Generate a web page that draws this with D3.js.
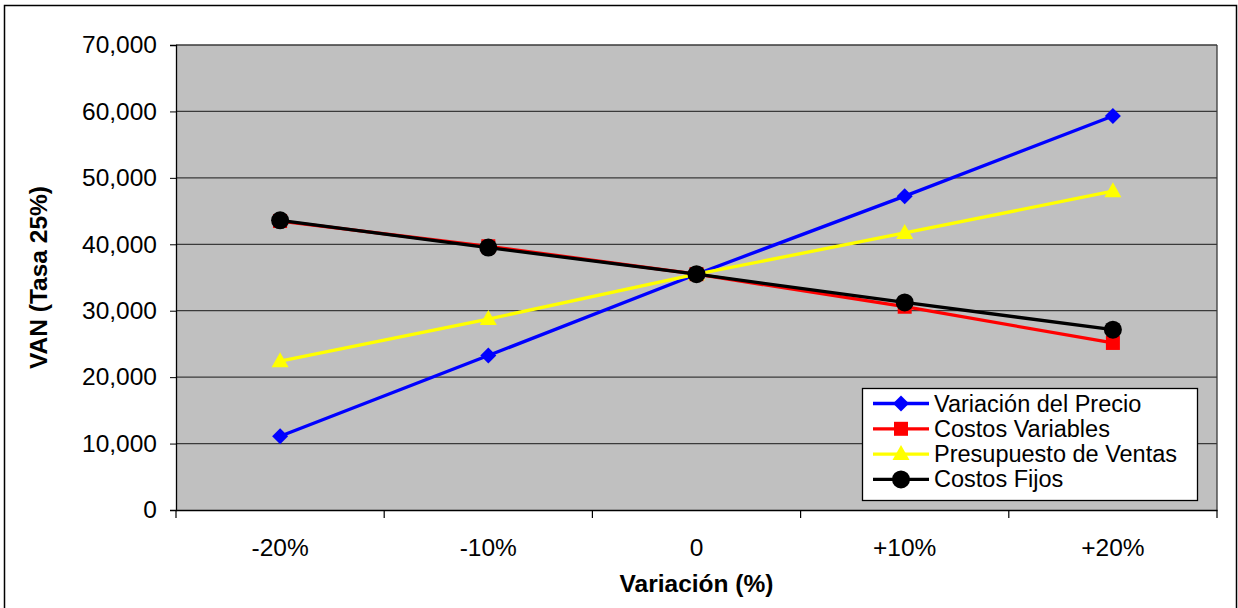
<!DOCTYPE html>
<html>
<head>
<meta charset="utf-8">
<script src="https://cdn.jsdelivr.net/npm/d3@7/dist/d3.min.js"></script>
<style>
  body { margin: 0; background: #fff; }
  text { font-family: "Liberation Sans", Arial, sans-serif; }
</style>
</head>
<body>
<div id="chart"></div>
<script>
var categories = ['-20%', '-10%', '0', '+10%', '+20%'];
var precio = [11100, 23250, 35500, 47250, 59300];
var costosVariables = [43500, 39700, 35500, 30600, 25150];
var presupuesto = [22400, 28750, 35500, 41700, 48000];
var costosFijos = [43600, 39500, 35500, 31250, 27150];
var y_ticks = [0, 10000, 20000, 30000, 40000, 50000, 60000, 70000];

var series = [
	{ name: 'Variación del Precio', values: precio, color: '#0000ff', symbol: 'diamond' },
	{ name: 'Costos Variables', values: costosVariables, color: '#ff0000', symbol: 'square' },
	{ name: 'Presupuesto de Ventas', values: presupuesto, color: '#ffff00', symbol: 'triangle' },
	{ name: 'Costos Fijos', values: costosFijos, color: '#000000', symbol: 'circle' }
];

var width = 1238;
var height = 608;
var plot = { left: 176, right: 1217, top: 45, bottom: 510 };

var svg = d3.select('#chart')
	.append('svg')
	.attr('width', width)
	.attr('height', height);

// outer frame
svg.append('rect')
	.attr('x', 4.5).attr('y', 5.5)
	.attr('width', 1232).attr('height', 620)
	.attr('fill', '#fff')
	.attr('stroke', '#000')
	.attr('stroke-width', 1.5);

var x_scale = d3.scaleBand()
	.domain(categories)
	.range([plot.left, plot.right]);

var y_scale = d3.scaleLinear()
	.domain([0, 70000])
	.range([plot.bottom, plot.top]);

// plot area
svg.append('rect')
	.attr('x', plot.left).attr('y', plot.top)
	.attr('width', plot.right - plot.left)
	.attr('height', plot.bottom - plot.top)
	.attr('fill', '#c0c0c0');

// gridlines
svg.append('g').selectAll('line')
	.data(y_ticks.slice(1))
	.enter()
	.append('line')
	.attr('x1', plot.left).attr('x2', plot.right)
	.attr('y1', function(d){ return y_scale(d); })
	.attr('y2', function(d){ return y_scale(d); })
	.attr('stroke', '#3a3a3a')
	.attr('stroke-width', 1.3);

// plot border right side
svg.append('line')
	.attr('x1', plot.right).attr('x2', plot.right)
	.attr('y1', plot.top).attr('y2', plot.bottom)
	.attr('stroke', '#3a3a3a').attr('stroke-width', 1.3);

// y axis
var y_axis = d3.axisLeft(y_scale)
	.tickValues(y_ticks)
	.tickSize(6)
	.tickPadding(13)
	.tickFormat(d3.format(','));
var gy = svg.append('g')
	.attr('transform', 'translate(' + plot.left + ',0)')
	.call(y_axis);
gy.select('.domain').attr('stroke', '#000').attr('stroke-width', 1.3);
gy.selectAll('.tick line').attr('stroke', '#000');
gy.selectAll('text')
	.attr('font-size', 24.5)
	.attr('font-family', '"Liberation Sans", Arial, sans-serif')
	.attr('fill', '#000');

// x axis
var x_axis = d3.axisBottom(x_scale).tickSize(0).tickPadding(29);
var gx = svg.append('g')
	.attr('transform', 'translate(0,' + plot.bottom + ')')
	.call(x_axis);
gx.select('.domain').attr('stroke', '#000').attr('stroke-width', 1.3);
gx.selectAll('text')
	.attr('font-size', 24.5)
	.attr('font-family', '"Liberation Sans", Arial, sans-serif')
	.attr('fill', '#000');

// x tick marks between categories
var bounds = categories.map(function(c){ return x_scale(c); }).concat([plot.right]);
svg.append('g').selectAll('line')
	.data(bounds)
	.enter()
	.append('line')
	.attr('x1', function(d){ return d; })
	.attr('x2', function(d){ return d; })
	.attr('y1', plot.bottom).attr('y2', plot.bottom + 8)
	.attr('stroke', '#000').attr('stroke-width', 1.2);

// axis titles
svg.append('text')
	.attr('x', (plot.left + plot.right) / 2)
	.attr('y', 592)
	.attr('text-anchor', 'middle')
	.attr('font-size', 24.5)
	.attr('font-weight', 'bold')
	.text('Variación (%)');

svg.append('text')
	.attr('transform', 'translate(47,' + ((plot.top + plot.bottom) / 2) + ') rotate(-90)')
	.attr('text-anchor', 'middle')
	.attr('font-size', 24.5)
	.attr('font-weight', 'bold')
	.text('VAN (Tasa 25%)');

var cx = function(i){ return x_scale(categories[i]) + x_scale.bandwidth() / 2; };

function drawMarker(g, s, x, y) {
	if (s.symbol === 'diamond') {
		g.append('path')
			.attr('d', 'M' + x + ',' + (y - 8) + 'L' + (x + 8) + ',' + y + 'L' + x + ',' + (y + 8) + 'L' + (x - 8) + ',' + y + 'Z')
			.attr('fill', s.color);
	} else if (s.symbol === 'square') {
		g.append('rect')
			.attr('x', x - 7).attr('y', y - 7)
			.attr('width', 14).attr('height', 14)
			.attr('fill', s.color);
	} else if (s.symbol === 'triangle') {
		g.append('path')
			.attr('d', 'M' + x + ',' + (y - 9) + 'L' + (x + 8.5) + ',' + (y + 6) + 'L' + (x - 8.5) + ',' + (y + 6) + 'Z')
			.attr('fill', s.color);
	} else {
		g.append('circle')
			.attr('cx', x).attr('cy', y).attr('r', 9)
			.attr('fill', s.color);
	}
}

// lines and markers
var line = d3.line()
	.x(function(d, i){ return cx(i); })
	.y(function(d){ return y_scale(d); });

series.forEach(function(s){
	var g = svg.append('g');
	g.append('path')
		.attr('d', line(s.values))
		.attr('fill', 'none')
		.attr('stroke', s.color)
		.attr('stroke-width', 3.3);
	s.values.forEach(function(v, i){
		drawMarker(g, s, cx(i), y_scale(v));
	});
});

// legend
var legend = svg.append('g');
legend.append('rect')
	.attr('x', 862.5).attr('y', 388.5)
	.attr('width', 335).attr('height', 112)
	.attr('fill', '#fff')
	.attr('stroke', '#000')
	.attr('stroke-width', 1.3);

series.forEach(function(s, i){
	var ly = 403.5 + i * 25.3;
	var g = legend.append('g');
	g.append('line')
		.attr('x1', 873).attr('x2', 929)
		.attr('y1', ly).attr('y2', ly)
		.attr('stroke', s.color)
		.attr('stroke-width', 3.3);
	drawMarker(g, s, 901, ly);
	g.append('text')
		.attr('x', 934)
		.attr('y', ly + 8)
		.attr('font-size', 23.5)
		.text(s.name);
});
</script>
</body>
</html>
